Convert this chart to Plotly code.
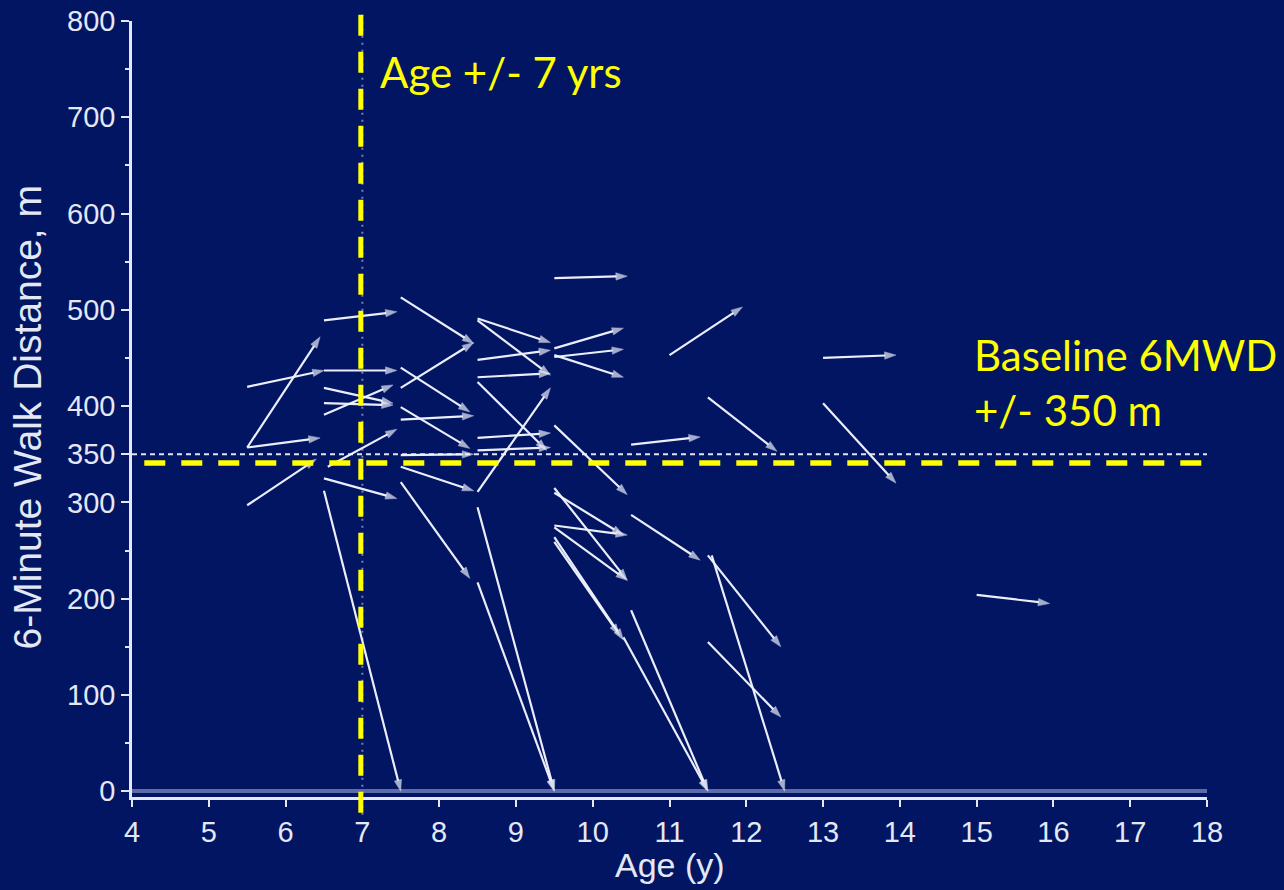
import plotly.graph_objects as go

# ---------------- data ----------------
start_age = [5.5, 5.5, 5.5, 5.5,
             6.5, 6.5, 6.5, 6.5, 6.5, 6.55, 6.5, 6.5,
             7.5, 7.5, 7.5, 7.5, 7.5, 7.5, 7.5, 7.5,
             8.5, 8.5, 8.5, 8.5, 8.5, 8.5, 8.5, 8.5, 8.5, 8.5,
             9.5, 9.5, 9.5, 9.5, 9.5, 9.5, 9.5, 9.5, 9.5, 9.5, 9.5,
             10.5, 10.4, 10.5, 10.5,
             11.5, 11.55, 11.5, 11.0, 11.5,
             13.0, 13.0, 15.0]
start_dist = [357, 420, 357, 297,
              489, 437, 419, 403, 391, 337, 325, 312,
              513, 440, 419, 386, 399, 349, 337, 321,
              217, 295, 311, 491, 489, 448, 430, 425, 367, 354,
              460, 451, 453, 533, 380, 315, 310, 276, 274, 264, 259,
              188, 160, 287, 360,
              245, 245, 155, 453, 409,
              403, 450, 204]
end_age = [6.45, 6.5, 6.45, 6.4,
           7.45, 7.45, 7.4, 7.4, 7.4, 7.45, 7.45, 7.5,
           8.45, 8.4, 8.45, 8.45, 8.4, 8.45, 8.45, 8.4,
           9.5, 9.5, 9.45, 9.45, 9.45, 9.45, 9.45, 9.4, 9.45, 9.45,
           10.4, 10.4, 10.4, 10.45, 10.45, 10.45, 10.4, 10.45, 10.45, 10.4, 10.35,
           11.5, 11.5, 11.4, 11.4,
           12.45, 12.5, 12.45, 11.95, 12.4,
           13.95, 13.95, 15.95]
end_dist = [472, 437, 367, 345,
            498, 437, 403, 401, 422, 376, 304, 0,
            465, 394, 466, 390, 356, 350, 312, 221,
            0, 0, 419, 466, 432, 458, 434, 354, 372, 357,
            481, 459, 430, 535, 308, 219, 266, 266, 219, 157, 162,
            0, 0, 240, 368,
            150, 0, 77, 503, 353,
            320, 453, 195]

x_ticks = list(range(4, 19))
y_ticks = [0, 100, 200, 300, 350, 400, 500, 600, 700, 800]
y_minor = [50, 150, 250, 450, 550, 650, 750]

AGE_CUTOFF = 7
DIST_REF = 350
YELLOW_DIST = 341

x_title = "Age (y)"
y_title = "6-Minute Walk Distance, m"
age_note = "Age +/- 7 yrs"
dist_note_1 = "Baseline 6MWD"
dist_note_2 = "+/- 350 m"

# ---------------- styling ----------------
NAVY = "rgb(1,21,98)"
WHITE = "rgba(240,243,253,0.98)"
AXIS = "#e4e8f5"
YELLOW = "#ffff00"
TICK_FONT = dict(family="Liberation Sans, Arial, sans-serif", size=29, color=AXIS)
NOTE_FONT = dict(family="Lato, Carlito, sans-serif", size=42, color=YELLOW)

xs, ys, sizes = [], [], []
for a0, d0, a1, d1 in zip(start_age, start_dist, end_age, end_dist):
    xs += [a0, a1, None]
    ys += [d0, d1, None]
    sizes += [0, 12, 0]

fig = go.Figure()
fig.add_trace(go.Scatter(
    x=xs, y=ys, mode="lines+markers",
    line=dict(color=WHITE, width=2.2),
    marker=dict(symbol="arrow", size=sizes, angleref="previous", color=WHITE,
                line=dict(width=0.5, color=WHITE)),
    hoverinfo="skip", showlegend=False, cliponaxis=False,
))

shapes = [
    # faint dotted original line at age 7
    dict(type="line", xref="x", yref="paper", x0=AGE_CUTOFF, x1=AGE_CUTOFF, y0=-0.023, y1=1.008,
         line=dict(color="rgba(130,140,190,0.9)", width=2, dash="2px,5px"), layer="below"),
    # white dotted line at 350 m
    dict(type="line", xref="x", yref="y", x0=4, x1=18.05, y0=DIST_REF, y1=DIST_REF,
         line=dict(color="rgba(235,238,250,0.95)", width=2, dash="5px,4px"), layer="below"),
    # yellow dashed overlays
    dict(type="line", xref="x", yref="paper", x0=AGE_CUTOFF - 0.02, x1=AGE_CUTOFF - 0.02,
         y0=1.008, y1=-0.023,
         line=dict(color=YELLOW, width=5, dash="21px,16px"), layer="above"),
    dict(type="line", xref="x", yref="y", x0=4.16, x1=18.05, y0=YELLOW_DIST, y1=YELLOW_DIST,
         line=dict(color=YELLOW, width=5.5, dash="21px,16px"), layer="above"),
]

annotations = [
    dict(text=age_note, xref="x", yref="y", x=7.2, y=747, xanchor="left", yanchor="middle",
         showarrow=False, font=NOTE_FONT),
    dict(text=dist_note_1, xref="x", yref="y", x=14.94, y=453, xanchor="left", yanchor="middle",
         showarrow=False, font=NOTE_FONT),
    dict(text=dist_note_2, xref="x", yref="y", x=14.94, y=396, xanchor="left", yanchor="middle",
         showarrow=False, font=NOTE_FONT),
    dict(text=y_title, xref="paper", yref="paper", x=-0.097, y=0.49, textangle=-90,
         xanchor="center", yanchor="middle", showarrow=False,
         font=dict(family="Liberation Sans, Arial, sans-serif", size=39, color=AXIS)),
    dict(text=x_title, xref="paper", yref="paper", x=0.5, y=-0.088,
         xanchor="center", yanchor="middle", showarrow=False,
         font=dict(family="Liberation Sans, Arial, sans-serif", size=34, color=AXIS)),
]

fig.update_layout(
    width=1284, height=890,
    margin=dict(l=132, r=77, t=21, b=93, autoexpand=False),
    paper_bgcolor=NAVY, plot_bgcolor=NAVY,
    shapes=shapes, annotations=annotations,
    showlegend=False,
)
fig.update_xaxes(
    range=[4, 18], tickvals=x_ticks, ticktext=[str(v) for v in x_ticks],
    automargin=False,
    showgrid=False, zeroline=False,
    showline=True, linecolor=AXIS, linewidth=2.5,
    ticks="outside", ticklen=7, tickwidth=2, tickcolor=AXIS,
    tickfont=TICK_FONT,
)
fig.update_yaxes(
    range=[-6, 800], tickvals=y_ticks, ticktext=[str(v) for v in y_ticks],
    automargin=False,
    showgrid=False,
    zeroline=True, zerolinecolor="rgba(170,180,225,0.55)", zerolinewidth=4,
    showline=True, linecolor=AXIS, linewidth=2.5,
    ticks="outside", ticklen=8, tickwidth=2, tickcolor=AXIS,
    tickfont=TICK_FONT,
    minor=dict(tickvals=y_minor, ticks="outside", ticklen=4, tickwidth=2, tickcolor=AXIS),
)

fig.write_html(
    "out.html",
    config={"displayModeBar": False},
    post_script="document.body.style.margin='0';document.body.style.background='rgb(1,21,98)';",
)
